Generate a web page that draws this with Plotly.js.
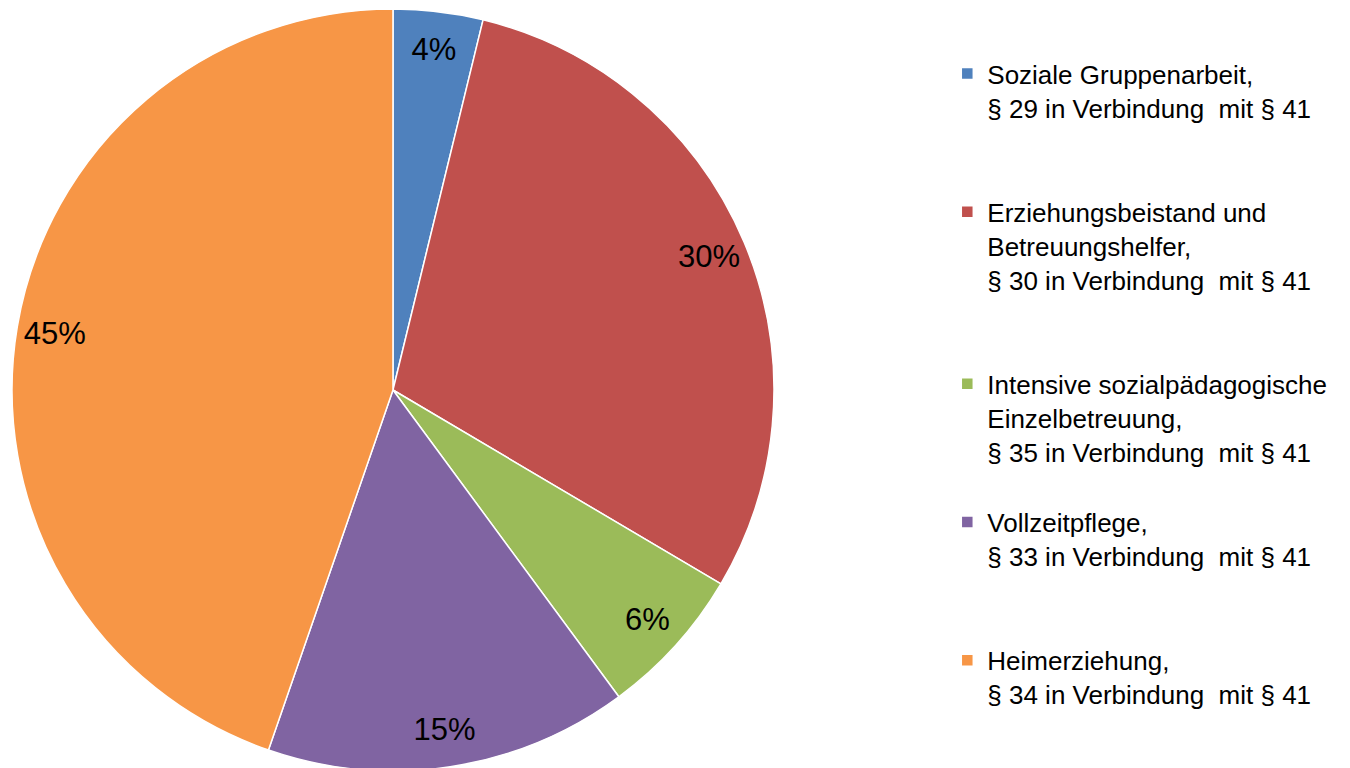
<!DOCTYPE html>
<html>
<head>
<meta charset="utf-8">
<script src="https://cdn.plot.ly/plotly-3.0.1.min.js"></script>
<style>html,body{margin:0;padding:0;background:#fff;overflow:hidden;}#chart{width:1350px;height:772px;}</style>
</head>
<body>
<div id="chart"></div>
<script>
// Data (shares in percent)
const categories = [
  "Soziale Gruppenarbeit,<br>§ 29 in Verbindung  mit § 41",
  "Erziehungsbeistand und<br>Betreuungshelfer,<br>§ 30 in Verbindung  mit § 41",
  "Intensive sozialpädagogische<br>Einzelbetreuung,<br>§ 35 in Verbindung  mit § 41",
  "Vollzeitpflege,<br>§ 33 in Verbindung  mit § 41",
  "Heimerziehung,<br>§ 34 in Verbindung  mit § 41"
];
const shares = [3.8, 29.7, 6.4, 15.4, 44.7];
const colors = ["#4F81BD", "#C0504D", "#9BBB59", "#8064A2", "#F79646"];

// blank lines appended to legend entries so that items are evenly spaced
const legendPad = [2, 2, 1, 2, 0];
const legendNames = categories.map((c, i) => c + "<br> ".repeat(legendPad[i]));

const FONT = "Liberation Sans, Arial, sans-serif";
const domain = {x: [0.00889, 0.5733], y: [0.0013, 0.9883]};

const pie = {
  type: "pie",
  labels: legendNames,
  values: shares,
  sort: false,
  direction: "clockwise",
  rotation: 0,
  domain: domain,
  marker: {colors: colors, line: {color: "#ffffff", width: 1.5}},
  textinfo: "none",
  hoverinfo: "label+percent"
};

// transparent ring that carries the percentage labels near the outer edge
const labelRing = {
  type: "pie",
  labels: legendNames,
  values: shares,
  sort: false,
  direction: "clockwise",
  rotation: 0,
  domain: domain,
  hole: 0.8,
  showlegend: false,
  hoverinfo: "skip",
  marker: {colors: colors.map(() => "rgba(0,0,0,0)"), line: {width: 0}},
  textposition: "inside",
  insidetextorientation: "horizontal",
  texttemplate: "%{percent:.0%}",
  textfont: {family: FONT, size: 31, color: "#000000"}
};

const layout = {
  width: 1350,
  height: 772,
  margin: {l: 0, r: 0, t: 0, b: 0},
  paper_bgcolor: "#ffffff",
  plot_bgcolor: "#ffffff",
  showlegend: true,
  legend: {
    x: 0.7017, xanchor: "left",
    y: 0.935, yanchor: "top",
    valign: "top",
    font: {family: FONT, size: 26, color: "#000000"},
    bgcolor: "rgba(0,0,0,0)",
    borderwidth: 0,
    traceorder: "normal"
  }
};

Plotly.newPlot("chart", [pie, labelRing], layout, {displayModeBar: false, staticPlot: true});
</script>
</body>
</html>
